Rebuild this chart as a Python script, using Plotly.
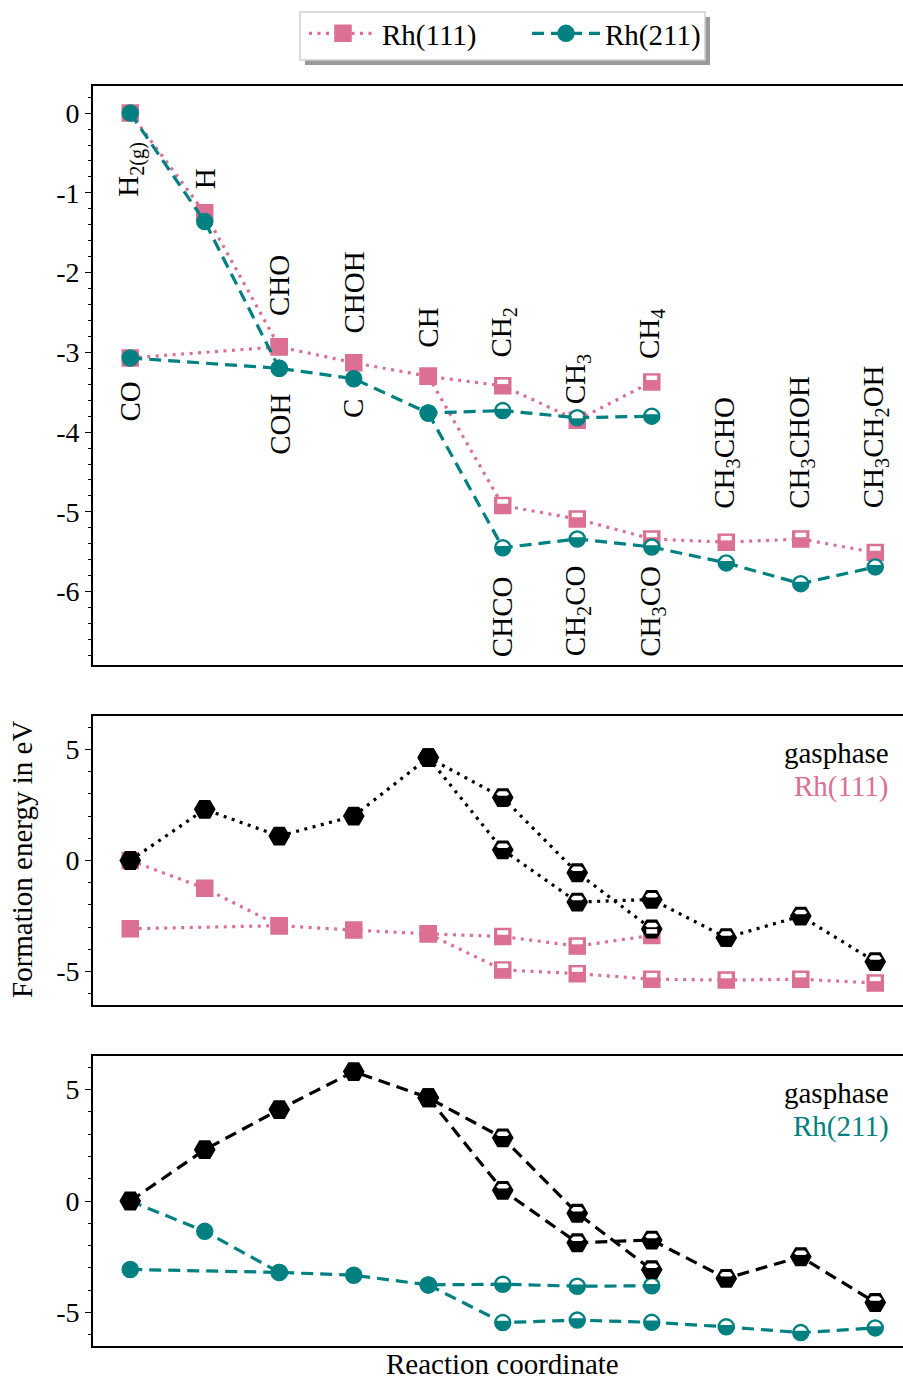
import math
import plotly.graph_objects as go
from plotly.subplots import make_subplots

# ---------------- data ----------------
species_x = {
    "H2": 0, "CO": 0, "H": 1, "CHO": 2, "COH": 2, "CHOH": 3, "C": 3, "CH": 4,
    "CH2": 5, "CH3": 6, "CH4": 7, "CHCO": 5, "CH2CO": 6, "CH3CO": 7,
    "CH3CHO": 8, "CH3CHOH": 9, "CH3CH2OH": 10,
}
hollow_species = ["CH2", "CH3", "CH4", "CHCO", "CH2CO", "CH3CO", "CH3CHO", "CH3CHOH", "CH3CH2OH"]

rh111 = {"H2": 0.0, "H": -1.25, "CO": -3.07, "CHO": -2.93, "CHOH": -3.13, "CH": -3.30,
         "CH2": -3.42, "CH3": -3.85, "CH4": -3.37, "CHCO": -4.92, "CH2CO": -5.09,
         "CH3CO": -5.34, "CH3CHO": -5.38, "CH3CHOH": -5.34, "CH3CH2OH": -5.51}
rh111_paths = [["H2", "H", "CHO"],
               ["CO", "CHO", "CHOH", "CH", "CH2", "CH3", "CH4"],
               ["CH", "CHCO", "CH2CO", "CH3CO", "CH3CHO", "CH3CHOH", "CH3CH2OH"]]

rh211 = {"H2": 0.0, "H": -1.36, "CO": -3.07, "COH": -3.20, "C": -3.33, "CH": -3.76,
         "CH2": -3.73, "CH3": -3.82, "CH4": -3.80, "CHCO": -5.45, "CH2CO": -5.34,
         "CH3CO": -5.44, "CH3CHO": -5.64, "CH3CHOH": -5.90, "CH3CH2OH": -5.69}
rh211_paths = [["H2", "H", "COH"],
               ["CO", "COH", "C", "CH", "CH2", "CH3", "CH4"],
               ["CH", "CHCO", "CH2CO", "CH3CO", "CH3CHO", "CH3CHOH", "CH3CH2OH"]]

gas = {"H2": 0.0, "H": 2.3, "CHO": 1.1, "CHOH": 2.0, "COH": 4.1, "C": 5.8, "CH": 4.63,
       "CH2": 2.83, "CH3": -0.55, "CH4": -3.08, "CHCO": 0.48, "CH2CO": -1.87,
       "CH3CO": -1.75, "CH3CHO": -3.47, "CH3CHOH": -2.5, "CH3CH2OH": -4.55}
gas111_paths = [["H2", "H", "CHO", "CHOH", "CH", "CH2", "CH3", "CH4"],
                ["CH", "CHCO", "CH2CO", "CH3CO", "CH3CHO", "CH3CHOH", "CH3CH2OH"]]
gas211_paths = [["H2", "H", "COH", "C", "CH", "CH2", "CH3", "CH4"],
                ["CH", "CHCO", "CH2CO", "CH3CO", "CH3CHO", "CH3CHOH", "CH3CH2OH"]]

# species labels in the top panel: (text, species, side)
label_info = [
    ("H<sub>2(g)</sub>", "H2", "above"), ("H", "H", "above"), ("CHO", "CHO", "above"),
    ("CHOH", "CHOH", "above"), ("CH", "CH", "above"), ("CH<sub>2</sub>", "CH2", "above"),
    ("CH<sub>3</sub>", "CH3", "above"), ("CH<sub>4</sub>", "CH4", "above"),
    ("CO", "CO", "below"), ("COH", "COH", "below"), ("C", "C", "below"),
    ("CHCO", "CHCO", "below"), ("CH<sub>2</sub>CO", "CH2CO", "below"),
    ("CH<sub>3</sub>CO", "CH3CO", "below"),
    ("CH<sub>3</sub>CHO", "CH3CHO", "above"), ("CH<sub>3</sub>CHOH", "CH3CHOH", "above"),
    ("CH<sub>3</sub>CH<sub>2</sub>OH", "CH3CH2OH", "above"),
]
# anchor positions (y, in eV units) of those labels
label_anchor_y = [-1.065, -0.965, -2.56, -2.78, -2.95, -3.08, -3.66, -3.10,
                  -3.35, -3.51, -3.57, -5.79, -5.66, -5.66, -4.97, -4.97, -4.97]

top_ticks = [0, -1, -2, -3, -4, -5, -6]
low_ticks = [5, 0, -5]

# ---------------- style ----------------
PINK = "#DB7093"
TEAL = "#008080"
BLACK = "#000000"
FONT = "Liberation Serif"
TXT = 29
W, H = 903, 1380
ML, MT, MB = 93, 86, 34
PW = W - ML
PH = H - MT - MB

def py2paper(py):
    return (H - MB - py) / PH

def px2paper(px):
    return (px - ML) / PW

fig = make_subplots(rows=3, cols=1)

sym = {"sq": ("square", 16), "ci": ("circle", 16), "hx": ("hexagon2", 20)}

def add_series(values, paths, color, dash, marker, row, name=None):
    s, size = sym[marker]
    for i, path in enumerate(paths):
        fig.add_trace(go.Scatter(
            x=[species_x[k] for k in path], y=[values[k] for k in path],
            mode="lines+markers",
            line=dict(color=color, width=3.2, dash=dash),
            marker=dict(symbol=s, size=size, color=color, line=dict(color=color, width=1.5)),
            name=name if name else "", legendgroup=name if name else None,
            showlegend=(name is not None and i == 0),
        ), row=row, col=1)

DOT = "3px,5.5px"
DASH = "12px,7px"

add_series(rh111, rh111_paths, PINK, DOT, "sq", 1, "Rh(111)")
add_series(rh211, rh211_paths, TEAL, DASH, "ci", 1, "Rh(211)")
add_series(rh111, rh111_paths, PINK, DOT, "sq", 2)
add_series(gas, gas111_paths, BLACK, DOT, "hx", 2)
add_series(rh211, rh211_paths, TEAL, DASH, "ci", 3)
add_series(gas, gas211_paths, BLACK, DASH, "hx", 3)

# half-filled look for the C2 / CHx species: white upper part inside marker
def white_half(marker):
    if marker == "sq":
        pts = [(-5.5, 1.8), (5.5, 1.8), (5.5, 6.3), (-5.5, 6.3)]
    elif marker == "ci":
        r = 6.3
        pts = [(r * math.cos(math.pi * k / 16), max(1.8, r * math.sin(math.pi * k / 16))) for k in range(17)]
    else:
        pts = [(-4.5, 1.8), (4.5, 1.8), (6.5, 3.5), (3.8, 6.3), (-3.8, 6.3), (-6.5, 3.5)]
    return "M" + " L".join(f"{x:.2f},{y:.2f}" for x, y in pts) + " Z"

shapes = []
def add_halves(values, marker, xref, yref):
    path = white_half(marker)
    for k in hollow_species:
        if k in values:
            shapes.append(dict(type="path", xref=xref, yref=yref, xsizemode="pixel",
                               ysizemode="pixel", xanchor=species_x[k], yanchor=values[k],
                               path=path, fillcolor="white", line=dict(width=0), layer="above"))

add_halves(rh111, "sq", "x", "y")
add_halves(rh211, "ci", "x", "y")
add_halves(rh111, "sq", "x2", "y2")
add_halves({k: gas[k] for k in hollow_species}, "hx", "x2", "y2")
add_halves(rh211, "ci", "x3", "y3")
add_halves({k: gas[k] for k in hollow_species}, "hx", "x3", "y3")

# legend frame with shadow
shapes.append(dict(type="rect", xref="paper", yref="paper",
                   x0=px2paper(305), x1=px2paper(710), y0=py2paper(65), y1=py2paper(17),
                   fillcolor="#9a9a9a", line=dict(width=0), layer="above"))
shapes.append(dict(type="rect", xref="paper", yref="paper",
                   x0=px2paper(300), x1=px2paper(705), y0=py2paper(60), y1=py2paper(12),
                   fillcolor="white", line=dict(color="#cfcfcf", width=1.5), layer="above"))

annotations = []
for (txt, sp, side), ya in zip(label_info, label_anchor_y):
    annotations.append(dict(x=species_x[sp], y=ya, xref="x", yref="y", text=txt,
                            textangle=-90, showarrow=False, xanchor="center",
                            yanchor="bottom" if side == "above" else "top",
                            font=dict(family=FONT, size=TXT, color="black"), borderpad=0))

annotations += [
    dict(x=px2paper(891), y=py2paper(753), xref="paper", yref="paper", text="gasphase",
         showarrow=False, xanchor="right", yanchor="middle", font=dict(family=FONT, size=TXT, color="black")),
    dict(x=px2paper(891), y=py2paper(786), xref="paper", yref="paper", text="Rh(111)",
         showarrow=False, xanchor="right", yanchor="middle", font=dict(family=FONT, size=TXT, color=PINK)),
    dict(x=px2paper(891), y=py2paper(1093), xref="paper", yref="paper", text="gasphase",
         showarrow=False, xanchor="right", yanchor="middle", font=dict(family=FONT, size=TXT, color="black")),
    dict(x=px2paper(891), y=py2paper(1126), xref="paper", yref="paper", text="Rh(211)",
         showarrow=False, xanchor="right", yanchor="middle", font=dict(family=FONT, size=TXT, color=TEAL)),
    dict(x=px2paper(502), y=py2paper(1364), xref="paper", yref="paper", text="Reaction coordinate",
         showarrow=False, xanchor="center", yanchor="middle", font=dict(family=FONT, size=TXT, color="black")),
    dict(x=px2paper(22), y=py2paper(860), xref="paper", yref="paper", text="Formation energy in eV",
         showarrow=False, xanchor="center", yanchor="middle", textangle=-90,
         font=dict(family=FONT, size=TXT, color="black")),
]

xr = [-0.5, -0.5 + PW / 74.5]
xax = dict(range=xr, showgrid=False, zeroline=False, showticklabels=False, ticks="",
           showline=True, mirror=True, linecolor="black", linewidth=1.6)

def yax(domain, rng, ticks, minor):
    return dict(domain=domain, range=rng, showgrid=False, zeroline=False,
                showline=True, mirror=False, linecolor="black", linewidth=1.6,
                tickmode="array", tickvals=ticks, ticktext=[str(t) for t in ticks],
                ticks="outside", ticklen=6, tickwidth=1.4, tickcolor="black",
                tickfont=dict(family=FONT, size=28, color="black"),
                minor=dict(ticks="outside", dtick=minor, tick0=0, ticklen=3.5,
                           tickwidth=1.2, tickcolor="black", showgrid=False))

fig.update_layout(
    width=W, height=H, margin=dict(l=ML, r=0, t=MT, b=MB),
    plot_bgcolor="white", paper_bgcolor="white",
    xaxis=dict(xax, anchor="y"), xaxis2=dict(xax, anchor="y2"), xaxis3=dict(xax, anchor="y3"),
    yaxis=yax([py2paper(665), py2paper(86)], [-6.92, 0.34], top_ticks, 0.2),
    yaxis2=yax([py2paper(1005), py2paper(716)], [-6.5, 6.5], low_ticks, 1),
    yaxis3=yax([py2paper(1346), py2paper(1056)], [-6.5, 6.5], low_ticks, 1),
    shapes=shapes, annotations=annotations,
    showlegend=True,
    legend=dict(orientation="h", x=px2paper(304), xanchor="left", y=py2paper(8), yanchor="top",
                bgcolor="rgba(0,0,0,0)", borderwidth=0,
                font=dict(family=FONT, size=TXT, color="black"),
                itemwidth=68, entrywidth=140, tracegroupgap=0),
)

fig.write_html("out.html", config={"displayModeBar": False},
               post_script="document.body.style.margin='0px';")
